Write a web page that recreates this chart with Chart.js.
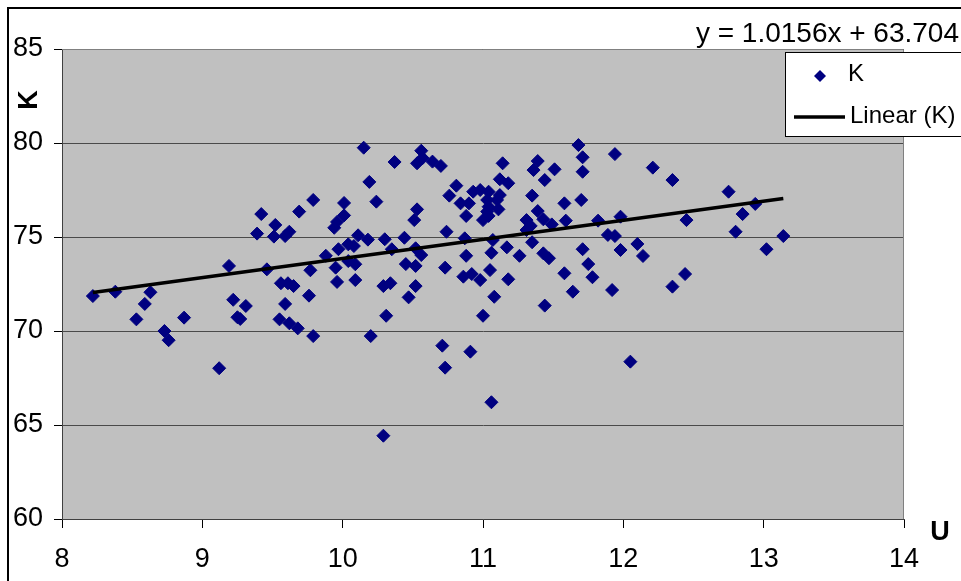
<!DOCTYPE html>
<html>
<head>
<meta charset="utf-8">
<title>K vs U</title>
<script src="https://cdn.jsdelivr.net/npm/chart.js@4.4.1/dist/chart.umd.min.js"></script>
<style>
  html, body { margin: 0; padding: 0; background: #ffffff; }
  #wrap { width: 961px; height: 581px; position: relative; overflow: hidden; }
  canvas { display: block; }
</style>
</head>
<body>
<div id="wrap"><canvas id="chart" width="961" height="581"></canvas></div>
<script>
// Measured pairs (U, K)
const uValues = [
  8.22, 8.38, 8.63, 8.59, 8.53, 8.87, 8.73, 8.76, 9.19, 9.22, 9.31, 9.25, 9.27, 9.12,
  10.15, 10.37, 10.19, 10.24, 9.79, 9.42, 9.69, 10.01, 10.01, 9.96, 9.94, 9.39, 9.52, 9.51,
  9.59, 9.62, 10.11, 10.18, 10.30, 10.44, 10.04, 10.08, 9.97, 10.35, 9.88, 10.04, 10.09, 9.95,
  10.45, 9.46, 9.77, 9.96, 10.09, 9.56, 9.61, 9.65, 10.29, 10.34, 9.76, 9.59, 9.55, 9.62,
  9.68, 9.79, 10.20, 10.31, 10.47, 10.29, 10.56, 10.53, 10.57, 10.64, 10.70, 11.14, 11.39, 11.36,
  11.51, 11.44, 11.12, 11.18, 10.81, 10.76, 10.93, 10.98, 11.04, 11.12, 11.03, 11.10, 10.84, 10.90,
  11.04, 11.11, 11.03, 10.88, 11.04, 11.00, 11.35, 11.39, 11.43, 11.49, 11.31, 11.34, 11.31, 10.53,
  10.51, 10.74, 10.87, 11.07, 11.35, 10.52, 10.56, 11.06, 11.17, 11.26, 10.88, 11.43, 11.47, 10.52,
  10.73, 11.05, 10.86, 10.92, 10.98, 11.18, 10.52, 11.71, 11.68, 11.94, 11.71, 11.58, 11.70, 11.59,
  11.82, 11.98, 11.89, 11.94, 11.71, 11.98, 11.75, 11.58, 11.78, 11.64, 11.92, 11.08, 12.21, 12.35,
  12.75, 12.94, 12.85, 12.80, 13.14, 13.02, 12.45, 12.10, 12.14, 12.44, 12.35, 12.05, 11.00, 11.44,
  10.71, 10.91, 10.73, 11.06
];
const kValues = [
  71.86, 72.09, 72.06, 71.44, 70.62, 70.71, 70.00, 69.51, 73.46, 71.66, 71.33, 70.73, 70.64, 68.02,
  79.75, 78.99, 77.93, 76.88, 76.97, 76.22, 76.35, 76.81, 76.15, 75.80, 75.49, 75.18, 75.64, 75.02,
  75.05, 75.28, 75.09, 74.86, 74.88, 74.96, 74.61, 74.52, 74.35, 74.35, 74.00, 73.72, 73.55, 73.37,
  73.56, 73.28, 73.23, 72.61, 72.71, 72.54, 72.54, 72.39, 72.39, 72.54, 71.88, 71.44, 70.62, 70.41,
  70.14, 69.73, 69.73, 70.81, 71.79, 64.43, 79.59, 78.92, 79.20, 79.01, 78.78, 78.92, 79.04, 78.56,
  78.60, 78.03, 78.07, 77.86, 77.73, 77.20, 77.41, 77.50, 77.41, 77.23, 76.97, 76.97, 76.79, 76.79,
  76.61, 76.47, 76.35, 76.12, 76.12, 75.90, 77.20, 76.38, 75.94, 75.67, 75.90, 75.59, 75.37, 76.47,
  75.90, 75.28, 74.93, 74.84, 74.72, 74.40, 74.04, 74.16, 74.45, 74.00, 74.00, 74.13, 73.87, 73.46,
  73.37, 73.24, 72.89, 73.03, 72.71, 72.75, 72.39, 79.24, 79.89, 79.41, 78.47, 76.79, 76.97, 75.87,
  75.87, 76.08, 75.11, 75.05, 74.35, 74.31, 73.56, 73.07, 72.86, 72.09, 72.18, 71.82, 78.69, 78.03,
  77.41, 76.76, 76.22, 75.28, 75.05, 74.35, 75.90, 74.63, 73.99, 73.03, 72.36, 68.37, 70.81, 71.35,
  69.22, 68.90, 68.05, 66.21
];

const xTicks = [8, 9, 10, 11, 12, 13, 14];
const yTicks = [60, 65, 70, 75, 80, 85];

// Linear trend as printed on the chart
const trendSlope = 1.0156;
const trendIntercept = 63.704;
const trendLabel = 'y = 1.0156x + 63.704';

const seriesName = 'K';
const trendName = 'Linear (K)';
const xTitle = 'U';
const yTitle = 'K';

const FONT = "'Liberation Sans', Arial, Helvetica, sans-serif";
const NAVY = '#000080';

const points = uValues.map((u, i) => ({ x: u, y: kValues[i] }));
const uMin = Math.min(...uValues);
const uMax = Math.max(...uValues);
const trendPoints = [
  { x: uMin, y: trendSlope * uMin + trendIntercept },
  { x: uMax, y: trendSlope * uMax + trendIntercept }
];

// Grey plot area, outer frame, and the overlaid texts / legend
const decorations = {
  id: 'decorations',
  beforeDraw(chart) {
    const { ctx, chartArea: a } = chart;
    ctx.save();
    ctx.fillStyle = '#ffffff';
    ctx.fillRect(0, 0, chart.width, chart.height);
    ctx.fillStyle = '#c0c0c0';
    ctx.fillRect(a.left, a.top, a.right - a.left, a.bottom - a.top);
    ctx.restore();
  },
  beforeDatasetsDraw(chart) {
    const { ctx, chartArea: a } = chart;
    ctx.save();
    ctx.strokeStyle = '#808080';
    ctx.lineWidth = 1;
    ctx.beginPath();
    ctx.moveTo(a.left, a.top + 0.5);
    ctx.lineTo(a.right - 0.5, a.top + 0.5);
    ctx.lineTo(a.right - 0.5, a.bottom);
    ctx.stroke();
    ctx.restore();
  },
  afterDraw(chart) {
    const { ctx } = chart;
    const ds = chart.data.datasets;
    const scatterDs = ds.find(d => d.type === 'scatter');
    const lineDs = ds.find(d => d.type === 'line');
    ctx.save();

    // outer frame
    ctx.strokeStyle = '#000000';
    ctx.lineWidth = 2;
    ctx.strokeRect(8, 8, 1200, 1200);

    // trend equation
    ctx.fillStyle = '#000000';
    ctx.font = '28px ' + FONT;
    ctx.textAlign = 'right';
    ctx.textBaseline = 'middle';
    ctx.fillText(trendLabel, 959, 34);

    // legend box
    ctx.fillStyle = '#ffffff';
    ctx.fillRect(785, 52, 200, 84);
    ctx.strokeStyle = '#000000';
    ctx.lineWidth = 1;
    ctx.strokeRect(785.5, 52.5, 200, 84);

    // legend: scatter marker
    ctx.fillStyle = scatterDs.backgroundColor;
    ctx.beginPath();
    ctx.moveTo(820, 70);
    ctx.lineTo(826, 76);
    ctx.lineTo(820, 82);
    ctx.lineTo(814, 76);
    ctx.closePath();
    ctx.fill();

    ctx.fillStyle = '#000000';
    ctx.font = '24px ' + FONT;
    ctx.textAlign = 'left';
    ctx.textBaseline = 'middle';
    ctx.fillText(scatterDs.label, 848, 74);

    // legend: trend line
    ctx.strokeStyle = lineDs.borderColor;
    ctx.lineWidth = lineDs.borderWidth;
    ctx.beginPath();
    ctx.moveTo(794, 117);
    ctx.lineTo(845, 117);
    ctx.stroke();
    ctx.fillText(lineDs.label, 850, 116);

    // axis titles
    ctx.font = 'bold 27px ' + FONT;
    ctx.textAlign = 'center';
    ctx.textBaseline = 'middle';
    ctx.fillText(xTitle, 940, 533);
    ctx.translate(30, 100);
    ctx.rotate(-Math.PI / 2);
    ctx.fillText(yTitle, 0, 0);

    ctx.restore();
  }
};

new Chart(document.getElementById('chart'), {
  data: {
    datasets: [
      {
        type: 'line',
        label: trendName,
        data: trendPoints,
        borderColor: '#000000',
        borderWidth: 3.5,
        pointRadius: 0,
        fill: false,
        order: 0
      },
      {
        type: 'scatter',
        label: seriesName,
        data: points,
        pointStyle: 'rectRot',
        radius: 6.5,
        borderWidth: 1,
        backgroundColor: NAVY,
        borderColor: NAVY,
        order: 1
      }
    ]
  },
  options: {
    responsive: false,
    animation: false,
    devicePixelRatio: 1,
    layout: { padding: { left: 0, top: 49, right: 57, bottom: 0 } },
    plugins: {
      legend: { display: false },
      tooltip: { enabled: false },
      title: { display: false }
    },
    scales: {
      x: {
        type: 'linear',
        min: xTicks[0],
        max: xTicks[xTicks.length - 1],
        afterBuildTicks: s => { s.ticks = xTicks.map(v => ({ value: v })); },
        afterFit: s => { s.height = 62; },
        grid: { drawOnChartArea: false, drawTicks: true, tickLength: 9, tickColor: '#000000' },
        border: { display: true, color: '#404040', width: 1 },
        ticks: { color: '#000000', font: { family: FONT, size: 27 }, padding: 15, maxRotation: 0 }
      },
      y: {
        type: 'linear',
        min: yTicks[0],
        max: yTicks[yTicks.length - 1],
        afterBuildTicks: s => { s.ticks = yTicks.map(v => ({ value: v })); },
        afterFit: s => { s.width = 62; },
        grid: { color: '#4a4a4a', lineWidth: 1, drawTicks: true, tickLength: 8, tickColor: '#000000' },
        border: { display: true, color: '#404040', width: 1 },
        ticks: { color: '#000000', font: { family: FONT, size: 27 }, padding: 11 }
      }
    }
  },
  plugins: [decorations]
});
</script>
</body>
</html>
